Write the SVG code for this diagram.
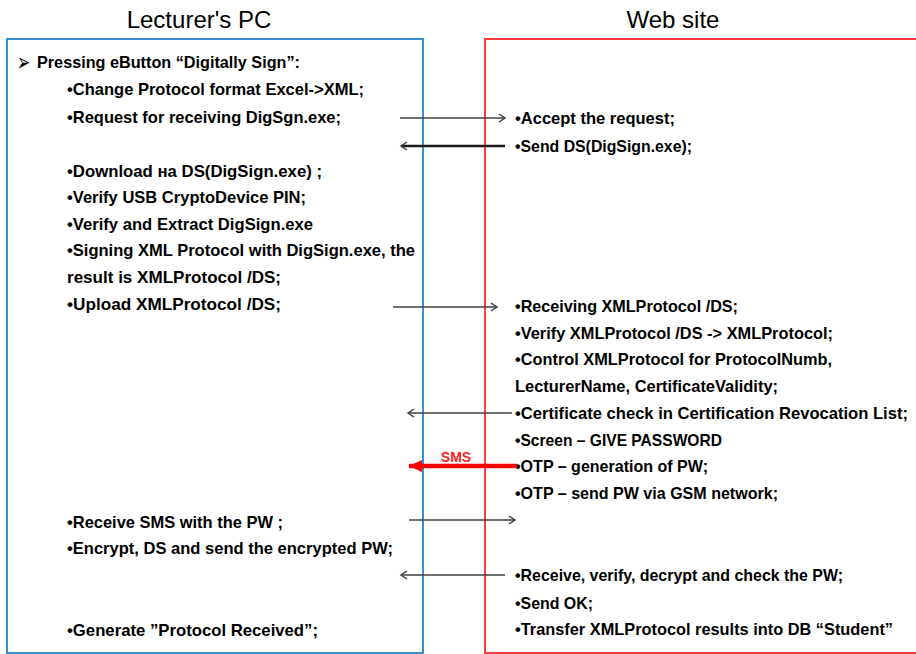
<svg xmlns="http://www.w3.org/2000/svg" width="916" height="654" viewBox="0 0 916 654">
<style>
.hdr{font-family:"Liberation Sans",Arial,sans-serif;font-size:24px;fill:#000;text-anchor:middle}
.t{font-family:"Liberation Sans",Arial,sans-serif;font-size:17px;font-weight:bold;fill:#000}
.ln{stroke:#404040;stroke-width:1.5;fill:none}
.lnb{stroke:#1a1a1a;stroke-width:2.5;fill:none}
.sms{stroke:#ff0000;stroke-width:4.5;fill:none}
</style>
<defs>
<marker id="open" markerUnits="userSpaceOnUse" markerWidth="12" markerHeight="12" refX="7" refY="5" orient="auto">
<path d="M1,1 L7,5 L1,9" stroke="#404040" stroke-width="1.5" fill="none"/>
</marker>
<marker id="redhead" markerUnits="userSpaceOnUse" markerWidth="16" markerHeight="14" refX="13" refY="6" orient="auto">
<path d="M0,0 L13,6 L0,12 Z" fill="#ff0000"/>
</marker>
</defs>
<rect width="916" height="654" fill="#fff"/>
<text class="hdr" x="199" y="28">Lecturer's PC</text>
<text class="hdr" x="673" y="28">Web site</text>
<g id="lecturer-pc">
<rect x="7" y="39" width="416" height="614" fill="none" stroke="#3a8fd4" stroke-width="2"/>
<text x="17" y="71" textLength="13" lengthAdjust="spacingAndGlyphs" style="font-family:'DejaVu Sans',sans-serif;font-size:26px;font-weight:bold;fill:#000">➢</text>
<text class="t" x="37" y="68" textLength="263" lengthAdjust="spacingAndGlyphs">Pressing eButton “Digitally Sign”:</text>
<text class="t" x="67" y="95" textLength="297" lengthAdjust="spacingAndGlyphs">•Change Protocol format Excel-&gt;XML;</text>
<text class="t" x="67" y="123" textLength="274" lengthAdjust="spacingAndGlyphs">•Request for receiving DigSgn.exe;</text>
<text class="t" x="67" y="177" textLength="255" lengthAdjust="spacingAndGlyphs">•Download  на DS(DigSign.exe) ;</text>
<text class="t" x="67" y="203" textLength="239" lengthAdjust="spacingAndGlyphs">•Verify USB CryptoDevice PIN;</text>
<text class="t" x="67" y="230" textLength="246" lengthAdjust="spacingAndGlyphs">•Verify and Extract DigSign.exe</text>
<text class="t" x="67" y="256" textLength="348" lengthAdjust="spacingAndGlyphs">•Signing XML Protocol with DigSign.exe, the</text>
<text class="t" x="67" y="283" textLength="214" lengthAdjust="spacingAndGlyphs">result is  XMLProtocol /DS;</text>
<text class="t" x="67" y="310" textLength="214" lengthAdjust="spacingAndGlyphs">•Upload  XMLProtocol /DS;</text>
<text class="t" x="67" y="528" textLength="216" lengthAdjust="spacingAndGlyphs">•Receive SMS with the PW ;</text>
<text class="t" x="67" y="554" textLength="326" lengthAdjust="spacingAndGlyphs">•Encrypt, DS and send the encrypted PW;</text>
<text class="t" x="67" y="636" textLength="251" lengthAdjust="spacingAndGlyphs">•Generate ”Protocol Received”;</text>
</g>
<g id="web-site">
<rect x="485" y="39" width="440" height="614" fill="none" stroke="#ff3b3b" stroke-width="2"/>
<text class="t" x="515" y="124" textLength="160" lengthAdjust="spacingAndGlyphs">•Accept the request;</text>
<text class="t" x="515" y="152" textLength="177" lengthAdjust="spacingAndGlyphs">•Send DS(DigSign.exe);</text>
<text class="t" x="515" y="312" textLength="223" lengthAdjust="spacingAndGlyphs">•Receiving XMLProtocol /DS;</text>
<text class="t" x="515" y="339" textLength="318" lengthAdjust="spacingAndGlyphs">•Verify XMLProtocol /DS -&gt; XMLProtocol;</text>
<text class="t" x="515" y="365" textLength="317" lengthAdjust="spacingAndGlyphs">•Control XMLProtocol for ProtocolNumb,</text>
<text class="t" x="515" y="392" textLength="263" lengthAdjust="spacingAndGlyphs">LecturerName, CertificateValidity;</text>
<text class="t" x="515" y="419" textLength="393" lengthAdjust="spacingAndGlyphs">•Certificate check in Certification Revocation List;</text>
<text class="t" x="515" y="446" textLength="207" lengthAdjust="spacingAndGlyphs">•Screen – GIVE PASSWORD</text>
<text class="t" x="515" y="472" textLength="193" lengthAdjust="spacingAndGlyphs">•OTP – generation of PW;</text>
<text class="t" x="515" y="499" textLength="263" lengthAdjust="spacingAndGlyphs">•OTP – send PW via GSM network;</text>
<text class="t" x="515" y="581" textLength="328" lengthAdjust="spacingAndGlyphs">•Receive, verify, decrypt and check the PW;</text>
<text class="t" x="515" y="609" textLength="78" lengthAdjust="spacingAndGlyphs">•Send OK;</text>
<text class="t" x="515" y="635" textLength="378" lengthAdjust="spacingAndGlyphs">•Transfer XMLProtocol results  into DB “Student”</text>
</g>
<g id="connectors">
<line class="ln" x1="400" y1="118" x2="505" y2="118" marker-end="url(#open)"/>
<line class="lnb" x1="505" y1="146" x2="401" y2="146" marker-end="url(#open)"/>
<line class="ln" x1="393" y1="307" x2="497" y2="307" marker-end="url(#open)"/>
<line class="ln" x1="512" y1="413" x2="408" y2="413" marker-end="url(#open)"/>
<line class="sms" x1="517" y1="466" x2="409" y2="466" marker-end="url(#redhead)"/>
<text x="456" y="462" text-anchor="middle" style="font-family:'Liberation Sans',Arial,sans-serif;font-size:14px;font-weight:bold;fill:#ff2020">SMS</text>
<line class="ln" x1="409" y1="520" x2="515" y2="520" stroke-width="2" marker-end="url(#open)"/>
<line class="ln" x1="505" y1="575" x2="401" y2="575" marker-end="url(#open)"/>
</g>
</svg>
